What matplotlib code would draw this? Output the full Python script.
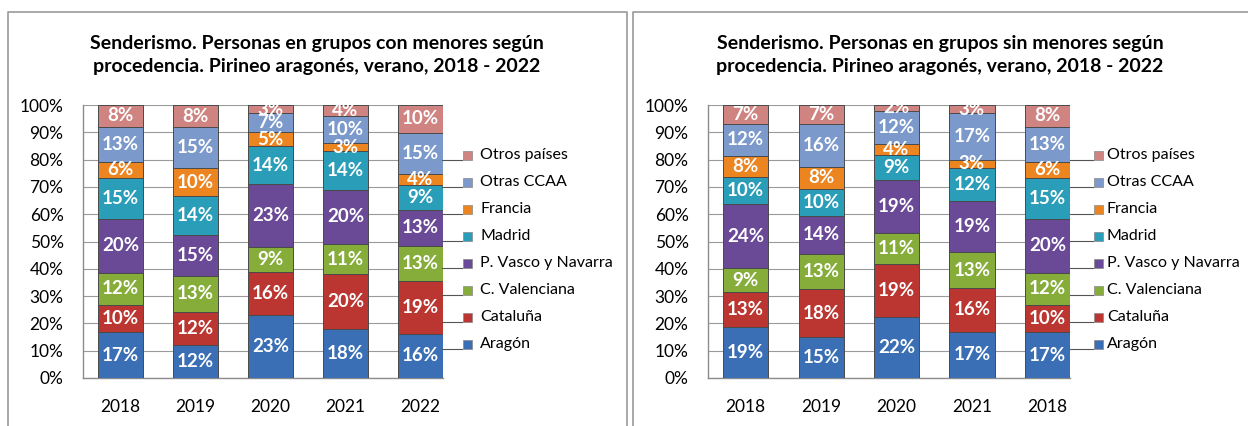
import matplotlib
matplotlib.use("Agg")
import matplotlib.pyplot as plt
import numpy as np
from matplotlib.lines import Line2D
from matplotlib.patches import Rectangle

plt.rcParams["font.family"] = ["Lato", "DejaVu Sans"]

W, H = 1248, 426

series = ["Aragón", "Cataluña", "C. Valenciana", "P. Vasco y Navarra",
          "Madrid", "Francia", "Otras CCAA", "Otros países"]
colors = ["#3a6fb6", "#bb3631", "#86ad3a", "#6a4997",
          "#2a9db8", "#ec8520", "#7b99ca", "#cf8482"]

years_con = ["2018", "2019", "2020", "2021", "2022"]
years_sin = ["2018", "2019", "2020", "2021", "2018"]

# shares (%) per series, one value per year
con_menores = {
    "Aragón":             [17, 12, 23, 18, 16],
    "Cataluña":           [10, 12, 16, 20, 19],
    "C. Valenciana":      [12, 13, 9, 11, 13],
    "P. Vasco y Navarra": [20, 15, 23, 20, 13],
    "Madrid":             [15, 14, 14, 14, 9],
    "Francia":            [6, 10, 5, 3, 4],
    "Otras CCAA":         [13, 15, 7, 10, 15],
    "Otros países":       [8, 8, 3, 4, 10],
}
sin_menores = {
    "Aragón":             [19, 15, 22, 17, 17],
    "Cataluña":           [13, 18, 19, 16, 10],
    "C. Valenciana":      [9, 13, 11, 13, 12],
    "P. Vasco y Navarra": [24, 14, 19, 19, 20],
    "Madrid":             [10, 10, 9, 12, 15],
    "Francia":            [8, 8, 4, 3, 6],
    "Otras CCAA":         [12, 16, 12, 17, 13],
    "Otros países":       [7, 7, 2, 3, 8],
}

title_con = "Senderismo. Personas en grupos con menores según\nprocedencia. Pirineo aragonés, verano, 2018 - 2022"
title_sin = "Senderismo. Personas en grupos sin menores según\nprocedencia. Pirineo aragonés, verano, 2018 - 2022"


def px(x, y):
    return x / W, 1 - y / H


def draw_panel(fig, rect, data, years):
    ax = fig.add_axes(rect)
    vals = np.array([data[s] for s in series], float)
    heights = vals / vals.sum(axis=0) * 100  # 100% stacked, like the original
    x = np.arange(len(years))
    bottom = np.zeros(len(years))
    for i, s in enumerate(series):
        ax.bar(x, heights[i], 0.6, bottom=bottom, color=colors[i],
               edgecolor="#4a4a4a", linewidth=0.7, zorder=3)
        for j in range(len(years)):
            ax.text(x[j], bottom[j] + heights[i][j] / 2, f"{int(vals[i][j])}%",
                    ha="center", va="center", color="white",
                    fontsize=13.5, fontweight="bold", zorder=4, clip_on=True)
        bottom += heights[i]
    ax.set_xlim(-0.5, 4.3)
    ax.set_ylim(0, 100)
    ax.set_yticks(range(0, 101, 10))
    ax.set_yticklabels([f"{v}%" for v in range(0, 101, 10)], fontsize=12.5)
    ax.set_xticks(x)
    ax.set_xticklabels(years, fontsize=12.5)
    ax.tick_params(length=0, pad=14, axis="y")
    ax.tick_params(length=0, pad=15, axis="x")
    ax.grid(axis="y", color="#9a9a9a", linewidth=0.8, zorder=0)
    for side in ["top", "right"]:
        ax.spines[side].set_visible(False)
    for side in ["left", "bottom"]:
        ax.spines[side].set_color("#8c8c8c")
        ax.spines[side].set_linewidth(1.0)
    return ax


fig = plt.figure(figsize=(W / 100, H / 100), dpi=100)

# panel frames (the original is cropped at the bottom)
frame = dict(color="#9a9a9a", linewidth=1.2)
for xs, ys in [([8, 8, 627, 627], [426, 12, 12, 426]),
               ([633, 633, 1248], [426, 12, 12])]:
    fig.add_artist(Line2D([v / W for v in xs], [1 - v / H for v in ys], **frame))

draw_panel(fig, [83 / W, 48 / H, 360 / W, 273 / H], con_menores, years_con)
draw_panel(fig, [708 / W, 48 / H, 362 / W, 273 / H], sin_menores, years_sin)

fig.text(*px(317, 55), title_con, ha="center", va="center", fontsize=14,
         fontweight="bold", linespacing=1.4)
fig.text(*px(940, 55), title_sin, ha="center", va="center", fontsize=14,
         fontweight="bold", linespacing=1.4)

# legends, top item = last series: (marker x, text x, leader line start)
for lx, tx, line_x0 in [(463, 480, 442), (1094, 1107, 1070)]:
    for k, s in enumerate(reversed(series)):
        cy = 155 + k * 27
        col = colors[len(series) - 1 - k]
        fig.add_artist(Line2D([line_x0 / W, (lx - 1) / W],
                              [1 - (cy + 5) / H] * 2, color="#555555", linewidth=0.8))
        fig.add_artist(Rectangle(px(lx, cy + 5), 9 / W, 9 / H, facecolor=col,
                                 edgecolor="#888888", linewidth=0.5,
                                 transform=fig.transFigure))
        fig.text(*px(tx, cy), s, ha="left", va="center", fontsize=11.5)

fig.savefig("out.png", dpi=100)
